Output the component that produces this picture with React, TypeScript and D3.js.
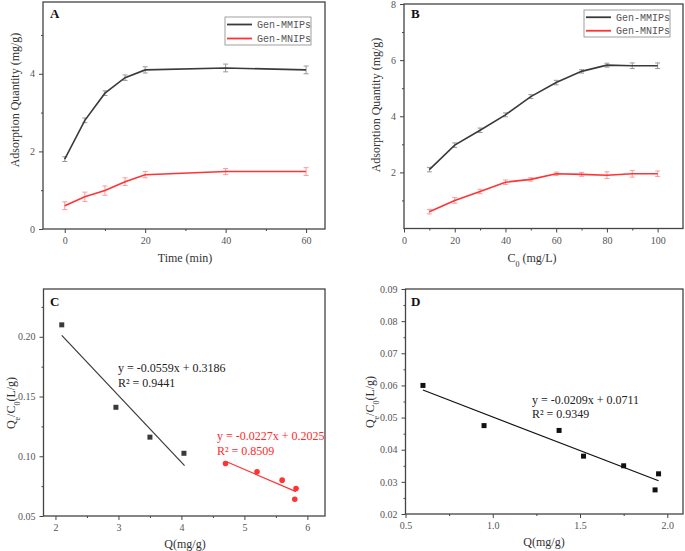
import React, { useEffect, useRef } from "react";
import * as d3 from "d3";

// ---------- Panel A: adsorption kinetics ----------
const timeA = [0, 5, 10, 15, 20, 40, 60];
const mmipsA = [1.8, 2.8, 3.5, 3.9, 4.1, 4.15, 4.1];
const mmipsAErr = [0.06, 0.06, 0.06, 0.07, 0.08, 0.1, 0.1];
const mnipsA = [0.6, 0.83, 0.99, 1.22, 1.4, 1.48, 1.48];
const mnipsAErr = [0.1, 0.12, 0.12, 0.1, 0.08, 0.08, 0.1];
const ticksAX = [0, 20, 40, 60];
const minorAX = [10, 30, 50];
const ticksAY = [0, 2, 4];
const minorAY = [1, 3, 5];

// ---------- Panel B: adsorption isotherm ----------
const concB = [10, 20, 30, 40, 50, 60, 70, 80, 90, 100];
const mmipsB = [2.1, 2.97, 3.5, 4.05, 4.7, 5.2, 5.6, 5.82, 5.8, 5.8];
const mmipsBErr = [0.08, 0.08, 0.08, 0.07, 0.07, 0.08, 0.06, 0.07, 0.1, 0.1];
const mnipsB = [0.6, 1.0, 1.32, 1.65, 1.75, 1.95, 1.93, 1.9, 1.95, 1.95];
const mnipsBErr = [0.08, 0.1, 0.08, 0.08, 0.06, 0.06, 0.07, 0.12, 0.12, 0.1];
const ticksBX = [0, 20, 40, 60, 80, 100];
const minorBX = [10, 30, 50, 70, 90];
const ticksBY = [2, 4, 6, 8];
const minorBY = [1, 3, 5, 7];

// ---------- Panel C: Scatchard-type fits ----------
const qC_MIP = [2.1, 2.96, 3.5, 4.04];
const ratioC_MIP = [0.21, 0.141, 0.116, 0.1025];
const qC_NIP = [4.7, 5.2, 5.6, 5.82, 5.8];
const ratioC_NIP = [0.094, 0.087, 0.08, 0.073, 0.064];
const fitC_MIP = [-0.0559, 0.3186];
const fitC_MIP_range = [2.1, 4.05];
const fitC_NIP = [-0.0227, 0.2025];
const fitC_NIP_range = [4.7, 5.82];
const ticksCX = [2, 3, 4, 5, 6];
const minorCX = [2.5, 3.5, 4.5, 5.5];
const ticksCY = [0.05, 0.1, 0.15, 0.2];
const minorCY = [0.075, 0.125, 0.175, 0.225];

// ---------- Panel D ----------
const qD = [0.6, 0.95, 1.38, 1.52, 1.75, 1.93, 1.95];
const ratioD = [0.06, 0.0475, 0.046, 0.038, 0.035, 0.0275, 0.0325];
const fitD = [-0.0209, 0.0711];
const fitD_range = [0.6, 1.95];
const ticksDX = [0.5, 1.0, 1.5, 2.0];
const minorDX = [0.75, 1.25, 1.75];
const ticksDY = [0.02, 0.03, 0.04, 0.05, 0.06, 0.07, 0.08, 0.09];
const minorDY = [0.025, 0.035, 0.045, 0.055, 0.065, 0.075, 0.085];

const seriesNames = ["Gen-MMIPs", "Gen-MNIPs"];

const DARK = "#3a3a3a";
const RED = "#ff3333";
const TICKFONT = "'Liberation Serif', 'Times New Roman', serif";
const LABELFONT = "'Liberation Serif', 'Times New Roman', serif";
const MONO = "'Liberation Mono', 'DejaVu Sans Mono', monospace";

type Frame = { x0: number; x1: number; y0: number; y1: number };

function axes(
  g: d3.Selection<SVGGElement, unknown, null, undefined>,
  x: d3.ScaleLinear<number, number>,
  y: d3.ScaleLinear<number, number>,
  f: Frame,
  tx: number[], mx: number[], ty: number[], my: number[],
  fx: (d: number) => string, fy: (d: number) => string
) {
  const style = (s: any) => {
    s.select(".domain").remove();
    s.selectAll("line").attr("stroke", "#444").attr("stroke-width", 1);
    s.selectAll("text").attr("fill", "#555").style("font-family", TICKFONT).style("font-size", "10px");
  };
  g.append("g").attr("transform", `translate(0,${f.y1})`)
    .call(d3.axisBottom(x).tickValues(tx).tickSize(4).tickPadding(4).tickFormat((d: any) => fx(d)))
    .call(style);
  g.append("g").attr("transform", `translate(0,${f.y1})`)
    .call(d3.axisBottom(x).tickValues(mx).tickSize(2).tickFormat(() => ""))
    .call(style);
  g.append("g").attr("transform", `translate(${f.x0},0)`)
    .call(d3.axisLeft(y).tickValues(ty).tickSize(4).tickPadding(4).tickFormat((d: any) => fy(d)))
    .call(style);
  g.append("g").attr("transform", `translate(${f.x0},0)`)
    .call(d3.axisLeft(y).tickValues(my).tickSize(2).tickFormat(() => ""))
    .call(style);
  g.append("rect")
    .attr("x", f.x0).attr("y", f.y0)
    .attr("width", f.x1 - f.x0).attr("height", f.y1 - f.y0)
    .attr("fill", "none").attr("stroke", "#444").attr("stroke-width", 1.3);
}

function errorLine(
  g: d3.Selection<SVGGElement, unknown, null, undefined>,
  x: d3.ScaleLinear<number, number>, y: d3.ScaleLinear<number, number>,
  xs: number[], ys: number[], errs: number[], color: string, errColor: string
) {
  const pts = xs.map((v, i) => [v, ys[i], errs[i]] as [number, number, number]);
  const eb = g.append("g").attr("stroke", errColor).attr("stroke-width", 1);
  pts.forEach(([a, b, e]) => {
    const cx = x(a);
    eb.append("line").attr("x1", cx).attr("x2", cx).attr("y1", y(b - e)).attr("y2", y(b + e));
    eb.append("line").attr("x1", cx - 2.5).attr("x2", cx + 2.5).attr("y1", y(b - e)).attr("y2", y(b - e));
    eb.append("line").attr("x1", cx - 2.5).attr("x2", cx + 2.5).attr("y1", y(b + e)).attr("y2", y(b + e));
  });
  g.append("path")
    .datum(pts)
    .attr("d", d3.line<[number, number, number]>().x((d) => x(d[0])).y((d) => y(d[1])))
    .attr("fill", "none").attr("stroke", color).attr("stroke-width", 1.6);
}

function legend(
  g: d3.Selection<SVGGElement, unknown, null, undefined>,
  bx: number, by: number, w: number, h: number
) {
  g.append("rect").attr("x", bx).attr("y", by).attr("width", w).attr("height", h)
    .attr("fill", "white").attr("stroke", "#888").attr("stroke-width", 0.8);
  const rowH = h / 2;
  seriesNames.forEach((name, i) => {
    const cy = by + rowH * (i + 0.5) + 0.5;
    g.append("line").attr("x1", bx + 2).attr("x2", bx + 27).attr("y1", cy).attr("y2", cy)
      .attr("stroke", i === 0 ? DARK : RED).attr("stroke-width", 1.8);
    g.append("text").attr("x", bx + 32).attr("y", cy + 3.5).text(name)
      .style("font-family", MONO).style("font-size", "10px").attr("fill", "#555");
  });
}

function panelLetter(g: any, x: number, y: number, t: string) {
  g.append("text").attr("x", x).attr("y", y).text(t)
    .style("font-family", LABELFONT).style("font-size", "13px").style("font-weight", "bold").attr("fill", "#111");
}

function yLabel(g: any, cx: number, cy: number) {
  return g.append("text").attr("transform", `translate(${cx},${cy}) rotate(-90)`)
    .attr("text-anchor", "middle")
    .style("font-family", LABELFONT).style("font-size", "12px").attr("fill", "#333");
}
function xLabel(g: any, cx: number, cy: number) {
  return g.append("text").attr("x", cx).attr("y", cy).attr("text-anchor", "middle")
    .style("font-family", LABELFONT).style("font-size", "12px").attr("fill", "#333");
}

function qeLabel(t: any) {
  t.append("tspan").text("Q");
  t.append("tspan").text("e").attr("baseline-shift", "sub").style("font-size", "8px");
  t.append("tspan").text("/C");
  t.append("tspan").text("0").attr("baseline-shift", "sub").style("font-size", "8px");
  t.append("tspan").text("(L/g)");
}

export default function App() {
  const ref = useRef<SVGSVGElement>(null);
  useEffect(() => {
    const svg = d3.select(ref.current);
    svg.selectAll("*").remove();
    const root = svg.append("g") as any;

    // ---------- A ----------
    {
      const f = { x0: 43, x1: 325, y0: 2, y1: 229 };
      const x = d3.scaleLinear().domain([-5.4, 64.7]).range([f.x0, f.x1]);
      const y = d3.scaleLinear().domain([0, 5.85]).range([f.y1, f.y0]);
      const g = root.append("g");
      axes(g, x, y, f, ticksAX, minorAX, ticksAY, minorAY, (d) => String(d), (d) => String(d));
      errorLine(g, x, y, timeA, mmipsA, mmipsAErr, DARK, "#999");
      errorLine(g, x, y, timeA, mnipsA, mnipsAErr, RED, "#f99");
      legend(g, 225, 17, 86, 28);
      panelLetter(g, 50, 18, "A");
      yLabel(g, 19, 100).text("Adsorption Quantity (mg/g)");
      xLabel(g, 185, 262).text("Time (min)");
    }

    // ---------- B ----------
    {
      const f = { x0: 404, x1: 683, y0: 4, y1: 228.5 };
      const x = d3.scaleLinear().domain([0, 110]).range([f.x0, f.x1]);
      const y = d3.scaleLinear().domain([0, 8]).range([f.y1, f.y0]);
      const g = root.append("g");
      axes(g, x, y, f, ticksBX, minorBX, ticksBY, minorBY, (d) => String(d), (d) => String(d));
      errorLine(g, x, y, concB, mmipsB, mmipsBErr, DARK, "#999");
      errorLine(g, x, y, concB, mnipsB, mnipsBErr, RED, "#f99");
      legend(g, 584, 10, 86, 27);
      panelLetter(g, 411, 18, "B");
      yLabel(g, 380, 105).text("Adsorption Quantity (mg/g)");
      const t = xLabel(g, 532, 262);
      t.append("tspan").text("C");
      t.append("tspan").text("0").attr("baseline-shift", "sub").style("font-size", "8px");
      t.append("tspan").text(" (mg/L)");
    }

    // ---------- C ----------
    {
      const f = { x0: 43.5, x1: 325, y0: 289, y1: 516 };
      const x = d3.scaleLinear().domain([1.81, 6.28]).range([f.x0, f.x1]);
      const y = d3.scaleLinear().domain([0.05, 0.24]).range([f.y1, f.y0]);
      const g = root.append("g");
      axes(g, x, y, f, ticksCX, minorCX, ticksCY, minorCY, (d) => String(d), (d) => d3.format(".2f")(d));
      const line = (p: number[], r: number[]) =>
        d3.line<number>().x((v) => x(v)).y((v) => y(p[0] * v + p[1]))(r);
      g.append("path").attr("d", line(fitC_MIP, fitC_MIP_range)).attr("stroke", DARK).attr("stroke-width", 1.2).attr("fill", "none");
      g.append("path").attr("d", line(fitC_NIP, fitC_NIP_range)).attr("stroke", RED).attr("stroke-width", 1.2).attr("fill", "none");
      qC_MIP.forEach((q, i) => {
        g.append("rect").attr("x", x(q) - 2.5).attr("y", y(ratioC_MIP[i]) - 2.5).attr("width", 5).attr("height", 5).attr("fill", DARK);
      });
      qC_NIP.forEach((q, i) => {
        g.append("circle").attr("cx", x(q)).attr("cy", y(ratioC_NIP[i])).attr("r", 2.8).attr("fill", RED);
      });
      const ann = (tx: number, ty: number, lines: string[], color: string) => {
        lines.forEach((s, i) => {
          g.append("text").attr("x", tx).attr("y", ty + i * 15).text(s)
            .style("font-family", LABELFONT).style("font-size", "12px").attr("fill", color);
        });
      };
      ann(118, 372, ["y = -0.0559x + 0.3186", "R² = 0.9441"], "#222");
      ann(217, 440, ["y = -0.0227x + 0.2025", "R² = 0.8509"], "#ff2a2a");
      panelLetter(g, 50, 306, "C");
      qeLabel(yLabel(g, 15, 403));
      xLabel(g, 185, 548).text("Q(mg/g)");
    }

    // ---------- D ----------
    {
      const f = { x0: 405.5, x1: 683, y0: 289, y1: 514 };
      const x = d3.scaleLinear().domain([0.5, 2.09]).range([f.x0, f.x1]);
      const y = d3.scaleLinear().domain([0.02, 0.09]).range([f.y1, f.y0]);
      const g = root.append("g");
      axes(g, x, y, f, ticksDX, minorDX, ticksDY, minorDY, (d) => d3.format(".1f")(d), (d) => d3.format(".2f")(d));
      const line = d3.line<number>().x((v) => x(v)).y((v) => y(fitD[0] * v + fitD[1]));
      g.append("path").attr("d", line(fitD_range)).attr("stroke", "#111").attr("stroke-width", 1.2).attr("fill", "none");
      qD.forEach((q, i) => {
        g.append("rect").attr("x", x(q) - 2.5).attr("y", y(ratioD[i]) - 2.5).attr("width", 5).attr("height", 5).attr("fill", "#111");
      });
      ["y = -0.0209x + 0.0711", "R² = 0.9349"].forEach((s, i) => {
        g.append("text").attr("x", 532).attr("y", 404 + i * 14).text(s)
          .style("font-family", LABELFONT).style("font-size", "12px").attr("fill", "#222");
      });
      panelLetter(g, 411, 306, "D");
      qeLabel(yLabel(g, 374, 402));
      xLabel(g, 544, 546).text("Q(mg/g)");
    }
  }, []);

  return (
    <div style={{ position: "fixed", left: 0, top: 0, width: 685, height: 551, background: "white" }}>
      <svg ref={ref} width={685} height={551} style={{ display: "block" }} />
    </div>
  );
}
